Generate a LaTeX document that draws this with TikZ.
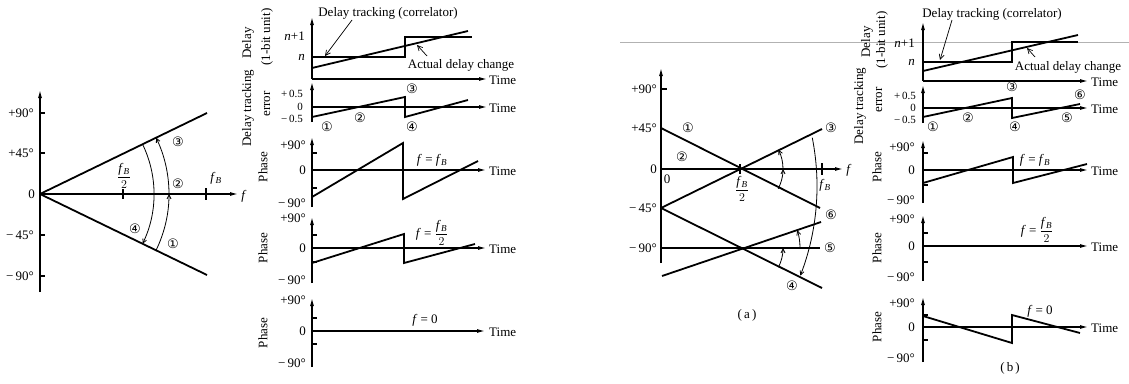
\documentclass[tikz,border=0pt]{standalone}
\usepackage{amsmath}
\usepackage{fontspec}
\setmainfont{Liberation Serif}
\newfontfamily\circf{DejaVu Sans}
\usetikzlibrary{arrows.meta}
\newcommand{\fB}{\textit{f}\textsubscript{\textit{B}}}
\newcommand{\fBh}{$\dfrac{\text{\fB}}{2}$}
\begin{document}
\begin{tikzpicture}[x=1pt,y=-1pt,
  ax/.style={line width=1.2pt,-{Latex[length=8pt,width=4pt]}},
  axn/.style={line width=1.2pt},
  plot/.style={line width=1.8pt},
  callout/.style={line width=0.7pt,-{Straight Barb[length=5pt,width=5pt]}},
  arcarr/.style={line width=0.8pt,-{Straight Barb[length=4pt,width=4pt]}},
  lab/.style={font=\fontsize{13}{13}\selectfont, inner sep=0pt},
  tl/.style={lab, anchor=east},
  te/.style={font=\fontsize{11}{11}\selectfont, inner sep=0pt, anchor=east},
  tw/.style={lab, anchor=west},
  cn/.style={font=\circf\fontsize{13}{13}\selectfont, inner sep=0pt},
  ylab/.style={lab, rotate=90},
]
\useasboundingbox (0,0) rectangle (1129,383);

% ================= LEFT PANEL =================
\coordinate (O1) at (40,194);
\draw[ax] (40,292) -- (40,90);
\draw[ax] (O1) -- (238,194);
\node[lab] (lf) at (244,196) {\textit{f}};
\foreach \yy in {113,153,235,276} \draw[axn] (40,\yy) -- (45,\yy);
\draw[axn] (123,189) -- (123,199);
\draw[axn] (206,188) -- (206,200);
\node[tl] (l90) at (34,113) {+90°};
\node[tl] (l45) at (34,153) {+45°};
\node[tl] (l0) at (35,194) {0};
\node[tl] (lm45) at (34,235) {−\,45°};
\node[tl] (lm90) at (34,276) {−\,90°};
\draw[plot] (O1) -- (207,113);
\draw[plot] (O1) -- (207,275);
\draw[arcarr] (O1) ++(-25.9:114) arc[start angle=-25.9,end angle=25.9,radius=114];
\draw[arcarr] (O1) ++(25.9:129) arc[start angle=25.9,end angle=0,radius=129];
\draw[arcarr] (O1) ++(0:129) arc[start angle=0,end angle=-25.9,radius=129];
\node[lab] (lfh) at (124,176) {\fBh};
\node[lab] (lfb) at (216,178) {\fB};
\node[cn] (lc3) at (178,142) {③};
\node[cn] (lc2) at (178,184) {②};
\node[cn] (lc4) at (135,229) {④};
\node[cn] (lc1) at (173,244) {①};

% ================= MIDDLE PANEL =================
% delay
\draw[ax] (312,79) -- (312,17);
\draw[ax] (312,79) -- (487,79);
\draw[plot] (312,57) -- (405,57) -- (405,37) -- (472,37);
\draw[plot] (312,68) -- (468,31);
\node[tl] (mn1) at (305,36) {\textit{n}+1};
\node[tl] (mn) at (305,57) {\textit{n}};
\node[lab] (mdt) at (388,13) {Delay tracking (correlator)};
\coordinate (mdtA) at (325,56);
\draw[callout] (352,20) -- (mdtA);
\node[lab] (mad) at (461,65) {Actual delay change};
\coordinate (madA) at (417,45);
\draw[callout] (427,56) -- (madA);
\node[tw] (mt1) at (489,80) {Time};
\node[ylab] (my1) at (248,43) {Delay};
\node[ylab] (my2) at (267,37) {(1-bit unit)};
% error
\draw[ax] (312,122) -- (312,82);
\draw[ax] (312,107) -- (487,107);
\draw[plot] (312,117) -- (405,97) -- (405,117) -- (468,100);
\node[te] (me1) at (303,94) {+\,0.5};
\node[te] (me2) at (303,107) {0};
\node[te] (me3) at (303,119) {−\,0.5};
\node[cn] (mc3) at (412,89) {③};
\node[cn] (mc2) at (360,118) {②};
\node[cn] (mc1) at (327,127) {①};
\node[cn] (mc4) at (412,127) {④};
\node[tw] (mt2) at (489,108) {Time};
\node[ylab] (my3) at (248,108) {Delay tracking};
\node[ylab] (my4) at (267,104) {error};
% phase 1
\draw[ax] (312,207) -- (312,137);
\draw[ax] (312,170) -- (486,170);
\draw[axn] (312,153) -- (317,153);
\draw[axn] (312,188) -- (317,188);
\draw[plot] (312,197) -- (403,143) -- (403,199) -- (478,161);
\node[tl] at (306,145) {+90°};
\node[tl] at (306,170) {0};
\node[tl] at (306,203) {−\,90°};
\node[lab] (mf1) at (432,160) {\textit{f} = \fB};
\node[tw] (mt3) at (489,171) {Time};
\node[ylab] (my5) at (263,167) {Phase};
% phase 2
\draw[ax] (312,283) -- (312,217);
\draw[ax] (312,248) -- (486,248);
\draw[axn] (312,235) -- (317,235);
\draw[axn] (312,262) -- (317,262);
\draw[plot] (312,263) -- (404,234) -- (404,263) -- (475,244);
\node[tl] at (306,218) {+90°};
\node[tl] at (306,248) {0};
\node[tl] at (306,280) {−\,90°};
\node[lab] (mf2) at (432,233) {\textit{f} = \fBh};
\node[tw] (mt4) at (489,249) {Time};
\node[ylab] (my6) at (263,248) {Phase};
% phase 3
\draw[ax] (312,367) -- (312,298);
\draw[ax] (312,331) -- (485,331);
\draw[axn] (312,318) -- (317,318);
\draw[axn] (312,344) -- (317,344);
\node[tl] at (306,300) {+90°};
\node[tl] at (306,331) {0};
\node[tl] at (306,363) {−\,90°};
\node[lab] (mf3) at (425,320) {\textit{f} = 0};
\node[tw] (mt5) at (489,332) {Time};
\node[ylab] (my7) at (263,333) {Phase};

% ================= DIAGRAM (a) =================
\coordinate (Oa) at (661,169);
\coordinate (Pa) at (740,169);
\coordinate (Qa) at (740,248);
\draw[ax] (661,263) -- (661,68);
\draw[ax] (Oa) -- (843,169);
\node[lab] (af) at (849,170) {\textit{f}};
\draw[axn] (661,89) -- (667,89);
\draw[axn] (740,164) -- (740,174);
\draw[axn] (822,163) -- (822,175);
\node[tl] at (657,89) {+90°};
\node[tl] at (657,128) {+45°};
\node[tl] at (657,169) {0};
\node[tl] at (657,208) {−\,45°};
\node[tl] at (657,248) {−\,90°};
\node[lab] (a0) at (667,179) {0};
\node[lab] (afh) at (742,189) {\fBh};
\node[lab] (afb) at (825,185) {\fB};
\draw[plot] (661,128) -- (820,208);
\draw[plot] (661,208) -- (822,129);
\draw[plot] (661,208) -- (822,288);
\draw[plot] (662,276) -- (821,222);
\draw[plot] (661,248) -- (820,248);
\draw[arcarr] (Pa) ++(27.4:43) arc[start angle=27.4,end angle=0,radius=43];
\draw[arcarr] (Pa) ++(0:43) arc[start angle=0,end angle=-26.6,radius=43];
\draw[arcarr] (Qa) ++(26.6:43) arc[start angle=26.6,end angle=0,radius=43];
\draw[arcarr] (Qa) ++(0:60) arc[start angle=0,end angle=-17.2,radius=60];
\draw[arcarr] (568,186) ++(-11.2:249) arc[start angle=-11.2,end angle=21.1,radius=249];
\node[cn] (ac1) at (688,128) {①};
\node[cn] (ac2) at (682,157) {②};
\node[cn] (ac3) at (831,128) {③};
\node[cn] (ac6) at (831,215) {⑥};
\node[cn] (ac5) at (830,248) {⑤};
\node[cn] (ac4) at (792,286) {④};
\node[lab] (acap) at (747,315) {(\,a\,)};

% ================= PANEL (b) =================
\draw[gray!60, line width=0.5pt] (620,42) -- (1129,42);
% delay
\draw[ax] (923,81) -- (923,22);
\draw[ax] (923,81) -- (1088,81);
\draw[plot] (923,62) -- (1012,62) -- (1012,42) -- (1078,42);
\draw[plot] (923,71) -- (1078,35);
\node[tl] at (915,43) {\textit{n}+1};
\node[tl] at (915,62) {\textit{n}};
\node[lab] (bdt) at (992,14) {Delay tracking (correlator)};
\coordinate (bdtA) at (940,60);
\draw[callout] (952,20) -- (bdtA);
\node[lab] (bad) at (1068,67) {Actual delay change};
\coordinate (badA) at (1027,48);
\draw[callout] (1035,57) -- (badA);
\node[tw] at (1091,82) {Time};
\node[ylab] at (867,42) {Delay};
\node[ylab] at (882,40) {(1-bit unit)};
% error
\draw[ax] (923,123) -- (923,85);
\draw[ax] (923,108) -- (1088,108);
\draw[plot] (923,117) -- (1012,98) -- (1012,118) -- (1080,104);
\node[te] at (916,96) {+\,0.5};
\node[te] at (916,108) {0};
\node[te] at (916,120) {−\,0.5};
\node[cn] at (1012,87) {③};
\node[cn] at (1080,95) {⑥};
\node[cn] at (933,127) {①};
\node[cn] at (968,118) {②};
\node[cn] at (1015,127) {④};
\node[cn] at (1067,118) {⑤};
\node[tw] at (1091,109) {Time};
\node[ylab] at (860,106) {Delay tracking};
\node[ylab] at (879,100) {error};
% phase 1
\draw[ax] (923,203) -- (923,140);
\draw[ax] (923,170) -- (1088,170);
\draw[axn] (923,153) -- (928,153);
\draw[axn] (923,185) -- (928,185);
\draw[plot] (923,183) -- (1013,157) -- (1013,183) -- (1087,164);
\node[tl] at (915,147) {+90°};
\node[tl] at (915,170) {0};
\node[tl] at (915,200) {−\,90°};
\node[lab] at (1035,160) {\textit{f} = \fB};
\node[tw] at (1091,171) {Time};
\node[ylab] at (877,167) {Phase};
% phase 2
\draw[ax] (923,281) -- (923,215);
\draw[ax] (923,246) -- (1088,246);
\draw[axn] (923,233) -- (928,233);
\draw[axn] (923,262) -- (928,262);
\node[tl] at (915,219) {+90°};
\node[tl] at (915,246) {0};
\node[tl] at (915,277) {−\,90°};
\node[lab] at (1037,230) {\textit{f} = \fBh};
\node[tw] at (1091,247) {Time};
\node[ylab] at (877,248) {Phase};
% phase 3
\draw[ax] (923,362) -- (923,297);
\draw[ax] (923,327) -- (1088,327);
\draw[axn] (923,315) -- (928,315);
\draw[axn] (923,340) -- (928,340);
\draw[plot] (923,316) -- (1012,343) -- (1012,315) -- (1080,333);
\node[tl] at (915,303) {+90°};
\node[tl] at (915,327) {0};
\node[tl] at (915,358) {−\,90°};
\node[lab] at (1040,311) {\textit{f} = 0};
\node[tw] at (1091,328) {Time};
\node[ylab] at (877,327) {Phase};
\node[lab] at (1010,368) {(\,b\,)};
\end{tikzpicture}
\end{document}
